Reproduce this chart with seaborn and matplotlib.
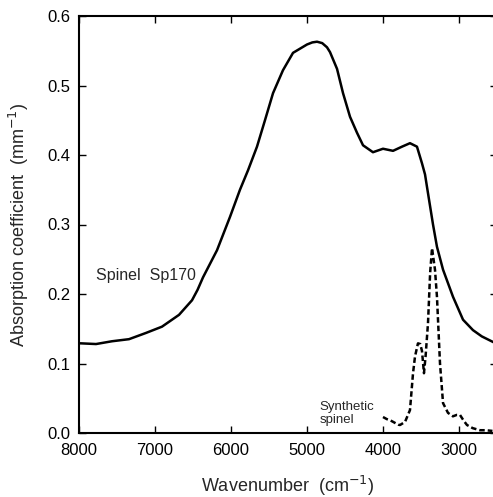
import matplotlib
matplotlib.use("Agg")
import matplotlib.pyplot as plt
import seaborn as sns
import pandas as pd

sns.set_style("ticks")
plt.rcParams['font.family'] = ['Liberation Sans', 'DejaVu Sans']

# Natural spinel Sp170 (solid)
sp170_wn = [8000, 7974, 7776, 7566, 7342, 7118, 6908, 6684, 6513, 6440, 6368, 6184, 6013, 5882,
            5776, 5658, 5553, 5447, 5316, 5184, 5000, 4930, 4868, 4800, 4737, 4697, 4605, 4526, 4434,
            4342, 4263, 4132, 4000, 3868, 3750, 3645, 3553, 3487, 3447, 3421, 3342, 3290,
            3210, 3079, 2947, 2816, 2700, 2553, 2500]
sp170_abs = [0.129, 0.129, 0.128, 0.132, 0.135, 0.144, 0.153, 0.170, 0.191, 0.206, 0.224, 0.263, 0.311, 0.350,
             0.378, 0.412, 0.450, 0.489, 0.522, 0.547, 0.559, 0.562, 0.563, 0.561, 0.555, 0.548, 0.524, 0.489, 0.455,
             0.432, 0.414, 0.404, 0.409, 0.406, 0.412, 0.417, 0.412, 0.388, 0.372, 0.354, 0.300, 0.268,
             0.235, 0.196, 0.163, 0.148, 0.139, 0.131, 0.128]

# Synthetic spinel (dashed)
syn_wn = [4000, 3950, 3900, 3850, 3800, 3776, 3710, 3645, 3605, 3579, 3540, 3510, 3487,
          3461, 3440, 3408, 3380, 3355, 3316, 3290, 3250, 3210, 3145, 3080, 3030, 2987,
          2940, 2895, 2820, 2724, 2650, 2560]
syn_abs = [0.023, 0.020, 0.018, 0.015, 0.012, 0.0115, 0.016, 0.033, 0.086, 0.110, 0.129, 0.128, 0.118,
           0.086, 0.110, 0.158, 0.230, 0.266, 0.235, 0.196, 0.100, 0.043, 0.029, 0.024, 0.026, 0.026,
           0.018, 0.0115, 0.007, 0.004, 0.004, 0.003]

df1 = pd.DataFrame({"wn": sp170_wn, "a": sp170_abs})
df2 = pd.DataFrame({"wn": syn_wn, "a": syn_abs})

fig = plt.figure(figsize=(4.93, 4.97), dpi=100)
ax = fig.add_axes([79/493, 64/497, (497-79)/493, (433-16)/497])

sns.lineplot(data=df1, x="wn", y="a", ax=ax, color="black", lw=1.8, sort=False)
sns.lineplot(data=df2, x="wn", y="a", ax=ax, color="black", lw=1.8, sort=False,
             linestyle=(0, (2.2, 1.2)))

ax.set_xlim(8000, 2500)
ax.set_ylim(0, 0.6)
ax.set_xticks([8000, 7000, 6000, 5000, 4000, 3000])
ax.set_yticks([0.0, 0.1, 0.2, 0.3, 0.4, 0.5, 0.6])
ax.set_yticklabels(["0.0", "0.1", "0.2", "0.3", "0.4", "0.5", "0.6"])
ax.tick_params(direction="in", top=True, right=True, length=5, width=1,
               labelsize=12, colors="black")
ax.tick_params(axis="x", pad=7)
ax.tick_params(axis="y", pad=6)
for s in ax.spines.values():
    s.set_linewidth(1.5)
    s.set_color("black")

ax.set_xlabel("Wavenumber  (cm$^{-1}$)", fontsize=13, labelpad=12)
ax.set_ylabel("Absorption coefficient  (mm$^{-1}$)", fontsize=13, labelpad=12)

ax.text(7770, 0.227, "Spinel  Sp170", fontsize=11.5, va="center", ha="left")
ax.text(4830, 0.028, "Synthetic\nspinel", fontsize=9.5, va="center", ha="left",
        linespacing=1.1)

fig.savefig("out.png", dpi=100)
